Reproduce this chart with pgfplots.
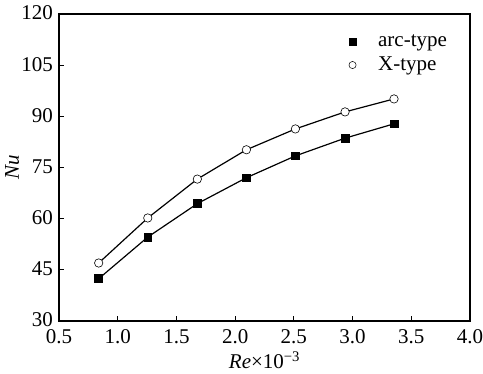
\documentclass[border=0pt]{standalone}
\usepackage{fontspec}
\setmainfont{Liberation Serif}
\usepackage{pgfplots}
\pgfplotsset{compat=1.18}
\begin{document}
\fontsize{21}{24}\selectfont
\begin{tikzpicture}
\begin{axis}[
  scale only axis,
  width=411pt, height=307pt,
  xmin=0.5, xmax=4.0, ymin=30, ymax=120,
  xtick={0.5,1.0,...,4.0},
  ytick={30,45,60,75,90,105,120},
  xtick pos=lower, ytick pos=left,
  tick align=inside,
  major tick length=5pt,
  axis line style={line width=1.2pt},
  tick style={line width=1.1pt, black},
  /pgf/number format/assume math mode=true,
  xticklabel style={/pgf/number format/fixed,/pgf/number format/fixed zerofill,/pgf/number format/precision=1, yshift=-1pt},
  yticklabel style={xshift=1pt, yshift=1pt},
  tick label style={font=\fontsize{21}{24}\selectfont},
  label style={font=\fontsize{21}{24}\selectfont},
  xlabel={\textit{Re}×10\textsuperscript{−3}},
  ylabel={\textit{Nu}},
  xlabel style={yshift=6pt},
  ylabel style={yshift=-12pt},
  legend style={draw=none, fill=none, at={(0.705,0.94)}, anchor=north west, font=\fontsize{21}{24}\selectfont, row sep=3pt, inner sep=0pt},
  legend cell align=left,
]
\addplot[black, line width=1.2pt, mark=square*, mark size=3.9pt, mark options={fill=black, line width=0.6pt}, forget plot]
coordinates {(0.838,42.4) (1.256,54.6) (1.678,64.4) (2.096,72.0) (2.513,78.4) (2.936,83.6) (3.353,87.8)};
\addplot[black, line width=1.2pt, mark=*, mark size=4.2pt, mark options={fill=white, line width=0.6pt}, forget plot]
coordinates {(0.838,47.0) (1.256,60.2) (1.678,71.6) (2.096,80.2) (2.513,86.3) (2.936,91.3) (3.353,95.1)};
\addlegendimage{only marks, mark=square*, mark size=3.6pt, mark options={fill=black, draw=black, line width=0.5pt}}
\addlegendentry{\hspace{20pt}arc-type}
\addlegendimage{only marks, mark=*, mark size=3.6pt, mark options={fill=white, draw=black, line width=0.5pt}}
\addlegendentry{\hspace{20pt}X-type}
\end{axis}
\pgfresetboundingbox
\path (current axis.south west) ++(-59pt,-53pt) rectangle ([shift={(13pt,14pt)}]current axis.north east);
\end{tikzpicture}
\end{document}
